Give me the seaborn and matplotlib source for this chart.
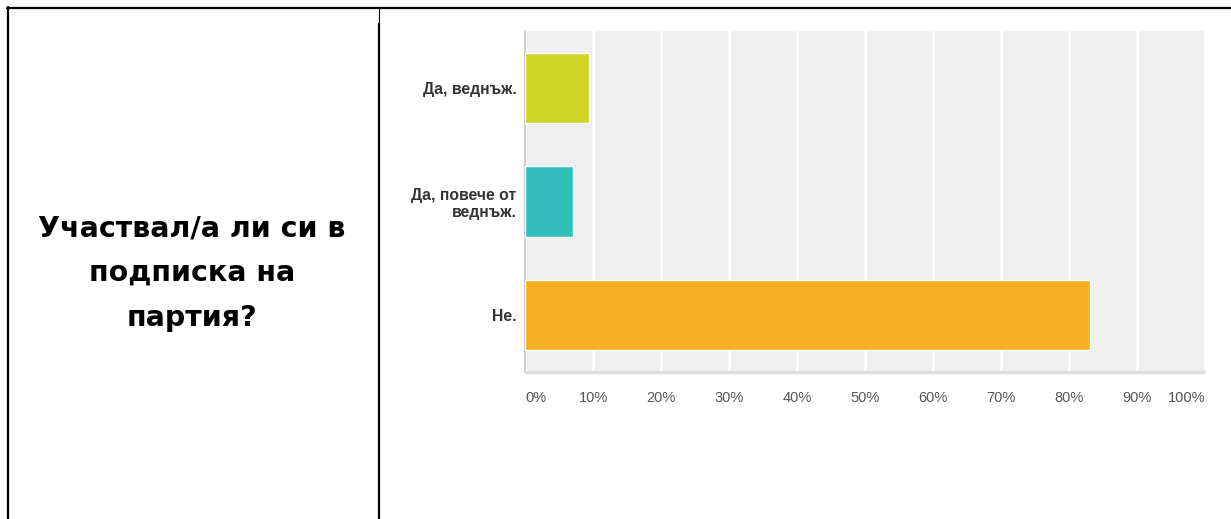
import matplotlib
matplotlib.use("Agg")
import matplotlib.pyplot as plt
import seaborn as sns
import pandas as pd
from matplotlib.lines import Line2D

# Data
categories = ["Да, веднъж.", "Да, повече от\nведнъж.", "Не."]
values = [9.4, 7.0, 83.1]
bar_colors = ["#CFD426", "#33BEBE", "#F6AF21"]
tick_values = [0, 10, 20, 30, 40, 50, 60, 70, 80, 90, 100]
tick_labels = ["0%", "10%", "20%", "30%", "40%", "50%", "60%", "70%", "80%", "90%", "100%"]
question = "Участвал/а ли си в\nподписка на\nпартия?"

sns.set_theme(style="white")
plt.rcParams['font.family'] = ['Liberation Sans', 'DejaVu Sans']

W, H = 1231, 519
fig = plt.figure(figsize=(W / 100, H / 100), dpi=100)
fig.patch.set_facecolor("white")

# axes in pixel layout
left, right, top, bottom = 525, 1205, 31, 372
ax = fig.add_axes([left / W, (H - bottom) / H, (right - left) / W, (bottom - top) / H])

df = pd.DataFrame({"cat": categories, "val": values})
sns.barplot(data=df, y="cat", x="val", hue="cat", palette=bar_colors,
            orient="h", width=0.62, legend=False, ax=ax, saturation=1, zorder=3)

ax.set_facecolor("#EFEFEF")
ax.set_xlim(0, 100)
ax.set_ylim(2.5, -0.5)
ax.set_xticks(tick_values)
ax.set_xticklabels(tick_labels)
ax.grid(axis="x", color="white", linewidth=2, zorder=0)
ax.set_axisbelow(True)
ax.set_xlabel("")
ax.set_ylabel("")

for s in ["top", "right"]:
    ax.spines[s].set_visible(False)
ax.spines["left"].set_color("#D0D0D0")
ax.spines["left"].set_linewidth(1.5)
ax.spines["bottom"].set_color("#DDDDDD")
ax.spines["bottom"].set_linewidth(2.5)
ax.spines["bottom"].set_capstyle("butt")

ax.tick_params(axis="x", length=0, pad=14, labelsize=10.5, labelcolor="#555555")
ax.tick_params(axis="y", length=0, pad=6, labelsize=11.3, labelcolor="#333333")
for lbl in ax.get_yticklabels():
    lbl.set_fontweight("bold")
    lbl.set_linespacing(1.15)
xl = ax.get_xticklabels()
xl[0].set_horizontalalignment("left")
xl[-1].set_horizontalalignment("right")

# left cell text
fig.text(192 / W, 1 - 273 / H, question, ha="center", va="center",
         fontsize=20.5, fontweight="bold", linespacing=1.76,
         family=['DejaVu Sans'], color="black")

# table borders
def hline(x0, x1, y, lw):
    fig.add_artist(Line2D([x0 / W, x1 / W], [1 - y / H, 1 - y / H], color="black",
                          linewidth=lw, transform=fig.transFigure))

def vline(x, y0, y1, lw):
    fig.add_artist(Line2D([x / W, x / W], [1 - y0 / H, 1 - y1 / H], color="black",
                          linewidth=lw, transform=fig.transFigure))

hline(7, W, 8, 1.6)
vline(8, 7, H, 1.6)
vline(379, 8, 24, 0.8)
vline(379, 24, H, 1.6)

fig.savefig("out.png", dpi=100, facecolor="white")
